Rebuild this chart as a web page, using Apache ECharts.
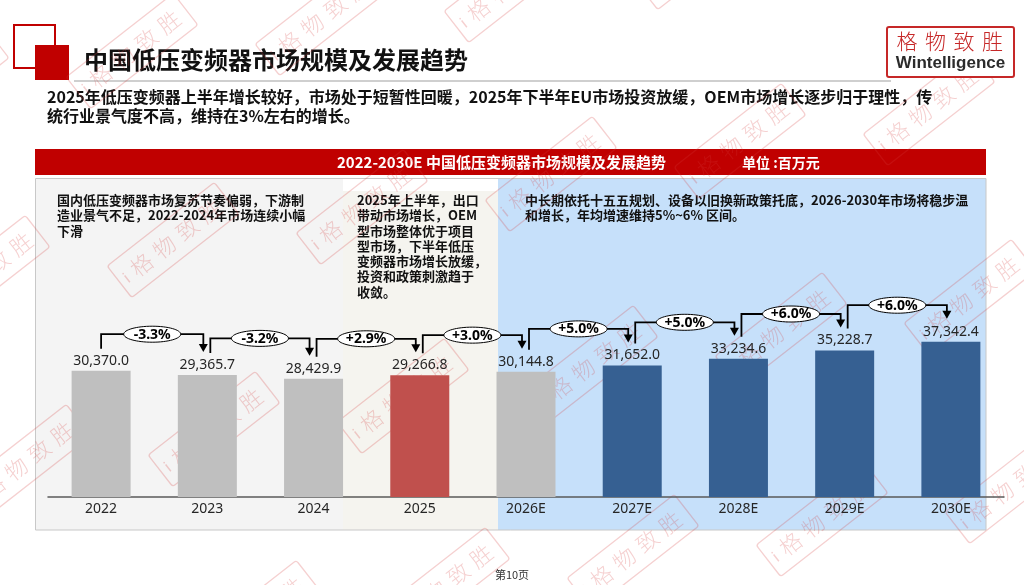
<!DOCTYPE html>
<html style="height: 100%">
<head>
    <meta charset="UTF-8">
</head>
<body style="height: 100%; margin: 0; background: #fff">
    <div id="container" style="height: 585px; width: 1024px;"></div>
    <script type="text/javascript" src="https://cdn.jsdelivr.net/npm/echarts@6/dist/echarts.min.js"></script>
    <script type="text/javascript">
        // data
        var years = ['2022', '2023', '2024', '2025', '2026E', '2027E', '2028E', '2029E', '2030E'];
        var marketSize = [30370.0, 29365.7, 28429.9, 29266.8, 30144.8, 31652.0, 33234.6, 35228.7, 37342.4];
        var growthLabels = ['-3.3%', '-3.2%', '+2.9%', '+3.0%', '+5.0%', '+5.0%', '+6.0%', '+6.0%'];
        var barColors = ['#BFBFBF', '#BFBFBF', '#BFBFBF', '#C0504D', '#BFBFBF', '#366092', '#366092', '#366092', '#366092'];

        var pageTitle = '中国低压变频器市场规模及发展趋势';
        var summary = '2025年低压变频器上半年增长较好，市场处于短暂性回暖，2025年下半年EU市场投资放缓，OEM市场增长逐步归于理性，传\n统行业景气度不高，维持在3%左右的增长。';
        var chartTitle = '2022-2030E 中国低压变频器市场规模及发展趋势';
        var unitText = '单位 :百万元';
        var note1 = '国内低压变频器市场复苏节奏偏弱，下游制\n造业景气不足，2022-2024年市场连续小幅\n下滑';
        var note2 = '2025年上半年，出口\n带动市场增长，OEM\n型市场整体优于项目\n型市场，下半年低压\n变频器市场增长放缓，\n投资和政策刺激趋于\n收敛。';
        var note3 = '中长期依托十五五规划、设备以旧换新政策托底，2026-2030年市场将稳步温\n和增长，年均增速维持5%~6% 区间。';
        var logoChars = ['格', '物', '致', '胜'];
        var pageNo = '第10页';

        var CJK = '"Noto Sans CJK SC", "Noto Sans", sans-serif';
        var NUM = '"Noto Sans", "Noto Sans CJK SC", sans-serif';

        function fmt(v) {
            return v.toLocaleString('en-US', {minimumFractionDigits: 1, maximumFractionDigits: 1});
        }

        var connectorData = [];
        for (var i = 0; i < growthLabels.length; i++) {
            connectorData.push([i, marketSize[i], marketSize[i + 1]]);
        }

        function renderConnector(params, api) {
            var i = api.value(0);
            var p0 = api.coord([i, api.value(1)]);
            var p1 = api.coord([i + 1, api.value(2)]);
            var sx = p0[0] + (i === 0 ? 0 : 3);
            var ex = p1[0] - 4;
            var y0 = p0[1] - 22;
            var tip = p1[1] - 23;
            var hy = Math.min(p0[1], p1[1]) - 36.5;
            var mx = (sx + ex) / 2;
            return {
                type: 'group',
                children: [
                    {type: 'polyline', shape: {points: [[sx, y0], [sx, hy], [ex, hy], [ex, tip - 7]]},
                        style: {stroke: '#000', lineWidth: 1.8, fill: 'none'}},
                    {type: 'polygon', shape: {points: [[ex - 4.5, tip - 8], [ex + 4.5, tip - 8], [ex, tip]]},
                        style: {fill: '#000'}},
                    {type: 'ellipse', shape: {cx: mx, cy: hy, rx: 28.5, ry: 8},
                        style: {fill: '#fff', stroke: '#000', lineWidth: 1}},
                    {type: 'text', style: {text: growthLabels[params.dataIndex], x: mx, y: hy + 0.5,
                        align: 'center', verticalAlign: 'middle', fontSize: 14, fontWeight: 'bold',
                        fontFamily: NUM, fill: '#000'}}
                ]
            };
        }

        // watermark stamps, tiled
        var stamps = [];
        var stampColor = 'rgba(215,60,60,0.24)';
        for (var r = 0; r < 4; r++) {
            for (var k = -1; k < 7; k++) {
                var cx = 25 + 41 * (r - 2) + 189 * k;
                var cy = 462 + 189 * (r - 2) - 33 * k;
                if (cx < -90 || cx > 1110 || cy < -70 || cy > 650) continue;
                var kids = [
                    {type: 'rect', shape: {x: -68, y: -20, width: 136, height: 40, r: 3},
                        style: {fill: 'none', stroke: stampColor, lineWidth: 1.3}},
                    {type: 'text', style: {text: 'i', x: -60, y: 2, align: 'center', verticalAlign: 'middle',
                        fontSize: 16, fontFamily: NUM, fill: stampColor}}
                ];
                for (var c = 0; c < 4; c++) {
                    kids.push({type: 'text', style: {text: logoChars[c], x: -40 + c * 29, y: 0,
                        align: 'center', verticalAlign: 'middle', fontSize: 22, fontWeight: 300,
                        fontFamily: CJK, fill: stampColor}});
                }
                stamps.push({type: 'group', x: cx, y: cy, rotation: 38 * Math.PI / 180,
                    z: 100, silent: true, children: kids});
            }
        }

        var logo = [
            {type: 'rect', shape: {x: 887, y: 27, width: 127, height: 50, r: 2},
                style: {fill: '#fff', stroke: '#C62828', lineWidth: 2}, z: 10},
            {type: 'text', z: 11, style: {text: 'Wintelligence', x: 950.5, y: 63, align: 'center',
                verticalAlign: 'middle', font: 'bold 17px "Liberation Sans", Arial, sans-serif', fill: '#2B2B2B'}}
        ];
        for (var j = 0; j < logoChars.length; j++) {
            logo.push({type: 'text', z: 11, style: {text: logoChars[j], x: 907 + j * 28.5, y: 41, align: 'center',
                verticalAlign: 'middle', fontSize: 21, fontWeight: 300, fontFamily: CJK, fill: '#C62828'}});
        }

        var graphics = [
            // header
            {type: 'rect', shape: {x: 14, y: 25, width: 41, height: 43}, style: {fill: '#fff', stroke: '#C00000', lineWidth: 2}},
            {type: 'rect', shape: {x: 35, y: 45, width: 34, height: 35}, style: {fill: '#C00000'}},
            {type: 'rect', shape: {x: 74, y: 80, width: 817, height: 2}, style: {fill: '#CFCFCF'}},
            {type: 'text', style: {text: pageTitle, x: 84, y: 60, verticalAlign: 'middle',
                fontSize: 24, fontWeight: 'bold', fontFamily: CJK, fill: '#111'}},
            {type: 'text', style: {text: summary, x: 47, y: 87.5, verticalAlign: 'top', lineHeight: 19,
                fontSize: 16, fontWeight: 'bold', fontFamily: CJK, fill: '#111'}},
            // banner
            {type: 'rect', shape: {x: 35, y: 149, width: 951, height: 26}, style: {fill: '#C00000'}},
            {type: 'text', style: {text: chartTitle, x: 337, y: 162.5, verticalAlign: 'middle',
                fontSize: 15, fontWeight: 'bold', fontFamily: CJK, fill: '#fff'}},
            {type: 'text', style: {text: unitText, x: 742, y: 162.5, verticalAlign: 'middle',
                fontSize: 14, fontWeight: 'bold', fontFamily: CJK, fill: '#fff'}},
            // panels
            {type: 'rect', shape: {x: 35, y: 179, width: 308, height: 351}, style: {fill: '#F4F4F4'}},
            {type: 'rect', shape: {x: 343, y: 191, width: 155, height: 339}, style: {fill: '#F5F4EF'}},
            {type: 'rect', shape: {x: 498, y: 179, width: 488, height: 351}, style: {fill: '#C6E0FA'}},
            {type: 'rect', shape: {x: 35.5, y: 178.5, width: 950.5, height: 351.5},
                style: {fill: 'none', stroke: '#C8C8C8', lineWidth: 1}},
            {type: 'text', style: {text: note1, x: 57, y: 192.4, verticalAlign: 'top', lineHeight: 15.3,
                fontSize: 13, fontWeight: 'bold', fontFamily: CJK, fill: '#111'}},
            {type: 'text', style: {text: note2, x: 357, y: 192.4, verticalAlign: 'top', lineHeight: 15.3,
                fontSize: 13, fontWeight: 'bold', fontFamily: CJK, fill: '#111'}},
            {type: 'text', style: {text: note3, x: 525, y: 192.4, verticalAlign: 'top', lineHeight: 15.3,
                fontSize: 13, fontWeight: 'bold', fontFamily: CJK, fill: '#111'}},
            {type: 'text', style: {text: pageNo, x: 512, y: 575, align: 'center', verticalAlign: 'middle',
                fontSize: 11, fontFamily: CJK, fill: '#333'}}
        ].concat(logo).concat(stamps);

        var dom = document.getElementById('container');
        var myChart = echarts.init(dom, null, {renderer: 'canvas', width: 1024, height: 585});
        var option = {
            backgroundColor: '#fff',
            animation: false,
            graphic: graphics,
            grid: {left: 48, right: 20, top: 247.5, bottom: 88, outerBoundsMode: 'none'},
            xAxis: {
                type: 'category',
                data: years,
                axisLine: {lineStyle: {color: '#595959', width: 1.5}},
                axisTick: {show: false},
                axisLabel: {color: '#262626', fontSize: 14, fontFamily: NUM, margin: 5}
            },
            yAxis: {
                type: 'value',
                min: 0,
                max: 60000,
                show: false,
                splitLine: {show: false}
            },
            series: [
                {
                    type: 'bar',
                    barWidth: 59,
                    data: marketSize.map(function (v, idx) {
                        return {value: v, itemStyle: {color: barColors[idx]}};
                    }),
                    label: {
                        show: true,
                        position: 'top',
                        distance: 3,
                        fontSize: 14,
                        fontFamily: NUM,
                        color: '#262626',
                        formatter: function (p) { return fmt(p.value); }
                    },
                    z: 3
                },
                {
                    type: 'custom',
                    data: connectorData,
                    encode: {x: 0, y: 1},
                    renderItem: renderConnector,
                    silent: true,
                    z: 5
                }
            ]
        };
        myChart.setOption(option, true);
    </script>
</body>
</html>
